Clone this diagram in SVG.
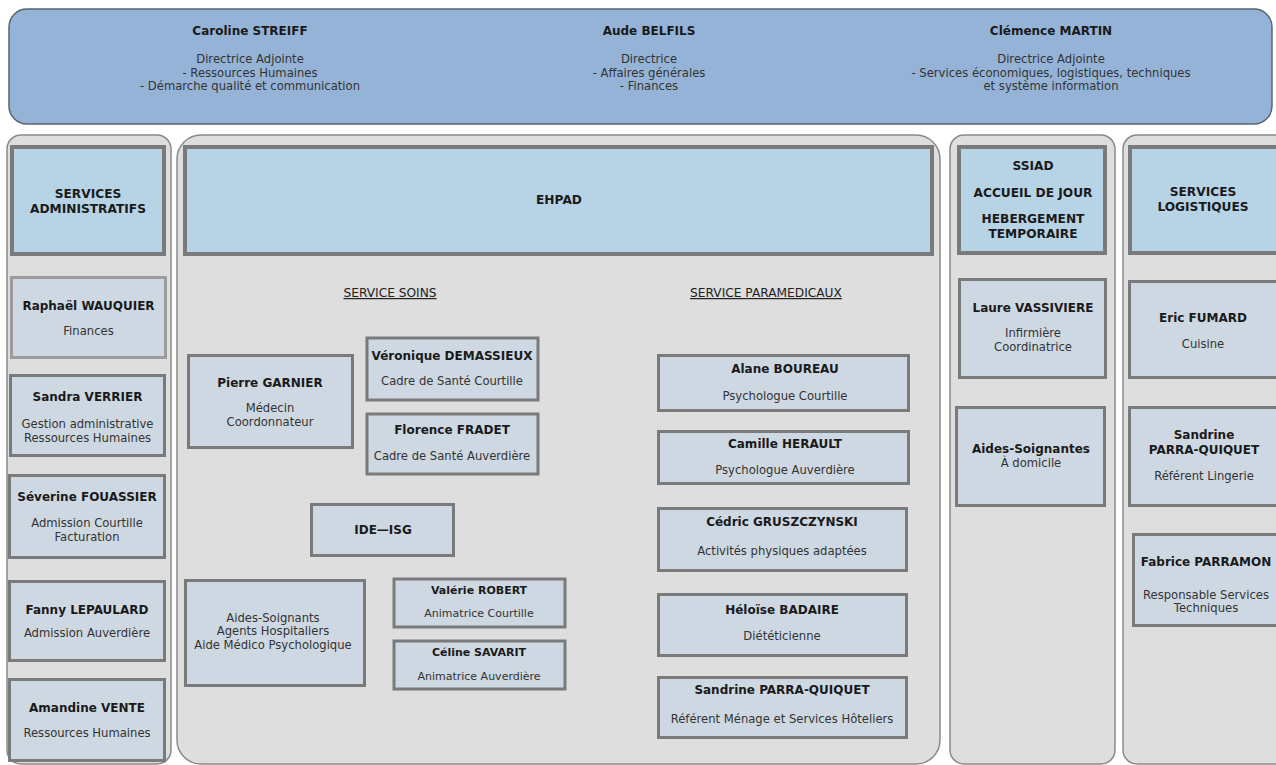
<svg xmlns="http://www.w3.org/2000/svg" width="1276" height="765" viewBox="0 0 1276 765">
<style>
text{font-family:"DejaVu Sans","Verdana",sans-serif;text-anchor:middle}
.n{font-weight:bold;font-size:12px;fill:#1a1a1a}
.s{font-size:11.6px;fill:#333}
.ss{font-size:11px;fill:#333}
.h{font-weight:bold;font-size:12.2px;fill:#1a1a1a}
.u{font-size:12.2px;fill:#222;text-decoration:underline}
.panel{fill:#dedede;stroke:#8a8a8a;stroke-width:1.5}
.hdr{fill:#b7d3e6;stroke:#7a7a7a;stroke-width:4}
.box{fill:#ced8e2;stroke:#7a7a7a;stroke-width:3}
.light{stroke:#9c9c9c}
</style>
<rect x="0" y="0" width="1276" height="765" fill="#ffffff"/>
<g id="direction">
<rect x="9" y="9" width="1263" height="115" rx="18" fill="#95b3d7" stroke="#5a6470" stroke-width="1.5"/>
<text class="n" x="250" y="35">Caroline STREIFF</text>
<text class="s" x="250" y="63">Directrice Adjointe</text>
<text class="s" x="250" y="76.5">- Ressources Humaines</text>
<text class="s" x="250" y="90">- Démarche qualité et communication</text>
<text class="n" x="649" y="35">Aude BELFILS</text>
<text class="s" x="649" y="63">Directrice</text>
<text class="s" x="649" y="76.5">- Affaires générales</text>
<text class="s" x="649" y="90">- Finances</text>
<text class="n" x="1051" y="35">Clémence MARTIN</text>
<text class="s" x="1051" y="63">Directrice Adjointe</text>
<text class="s" x="1051" y="76.5">- Services économiques, logistiques, techniques</text>
<text class="s" x="1051" y="90">et système information</text>
</g>
<g id="panels">
<rect class="panel" x="7" y="135" width="164" height="629" rx="14"/>
<rect class="panel" x="177" y="135" width="763" height="629" rx="24"/>
<rect class="panel" x="950" y="135" width="165" height="629" rx="14"/>
<rect class="panel" x="1123" y="135" width="170" height="629" rx="14"/>
</g>
<g id="services-administratifs">
<rect class="hdr" x="12" y="147" width="152" height="107"/>
<text class="h" x="88" y="198">SERVICES</text>
<text class="h" x="88" y="213">ADMINISTRATIFS</text>
</g>
<g id="raphael-wauquier">
<rect class="box light" x="11.5" y="277.5" width="154" height="80"/>
<text class="n" x="88.5" y="310">Raphaël WAUQUIER</text>
<text class="s" x="88.5" y="335">Finances</text>
</g>
<g id="sandra-verrier">
<rect class="box" x="10.5" y="375.5" width="154" height="80"/>
<text class="n" x="87.5" y="401">Sandra VERRIER</text>
<text class="s" x="87.5" y="428">Gestion administrative</text>
<text class="s" x="87.5" y="441.5">Ressources Humaines</text>
</g>
<g id="severine-fouassier">
<rect class="box" x="9.5" y="475.5" width="155" height="82"/>
<text class="n" x="87" y="501">Séverine FOUASSIER</text>
<text class="s" x="87" y="527">Admission Courtille</text>
<text class="s" x="87" y="540.5">Facturation</text>
</g>
<g id="fanny-lepaulard">
<rect class="box" x="9.5" y="581.5" width="155" height="79"/>
<text class="n" x="87" y="614">Fanny LEPAULARD</text>
<text class="s" x="87" y="637">Admission Auverdière</text>
</g>
<g id="amandine-vente">
<rect class="box" x="9.5" y="679.5" width="155" height="81"/>
<text class="n" x="87" y="712">Amandine VENTE</text>
<text class="s" x="87" y="737">Ressources Humaines</text>
</g>
<g id="ehpad">
<rect class="hdr" x="185" y="147" width="747" height="107"/>
<text class="h" x="559" y="204">EHPAD</text>
</g>
<g id="labels">
<text class="u" x="390" y="297">SERVICE SOINS</text>
<text class="u" x="766" y="297">SERVICE PARAMEDICAUX</text>
</g>
<g id="pierre-garnier">
<rect class="box" x="188.5" y="355.5" width="164" height="92"/>
<text class="n" x="270" y="387">Pierre GARNIER</text>
<text class="s" x="270" y="412">Médecin</text>
<text class="s" x="270" y="425.5">Coordonnateur</text>
</g>
<g id="veronique-demassieux">
<rect class="box" x="367" y="338" width="171" height="62"/>
<text class="n" x="452" y="360">Véronique DEMASSIEUX</text>
<text class="s" x="452" y="385">Cadre de Santé Courtille</text>
</g>
<g id="florence-fradet">
<rect class="box" x="367" y="414" width="171" height="60"/>
<text class="n" x="452" y="434">Florence FRADET</text>
<text class="s" x="452" y="460">Cadre de Santé Auverdière</text>
</g>
<g id="ide-isg">
<rect class="box" x="311.5" y="504.5" width="142" height="51"/>
<text class="n" x="383" y="534">IDE—ISG</text>
</g>
<g id="aides-soignants">
<rect class="box" x="185.5" y="580.5" width="179" height="105"/>
<text class="s" x="273" y="621.5">Aides-Soignants</text>
<text class="s" x="273" y="635">Agents Hospitaliers</text>
<text class="s" x="273" y="648.5">Aide Médico Psychologique</text>
</g>
<g id="valerie-robert">
<rect class="box" x="394" y="579" width="171" height="48"/>
<text class="n" x="479" y="594" style="font-size:11px">Valérie ROBERT</text>
<text class="ss" x="479" y="617">Animatrice Courtille</text>
</g>
<g id="celine-savarit">
<rect class="box" x="394" y="641" width="171" height="48"/>
<text class="n" x="479" y="656" style="font-size:11px">Céline SAVARIT</text>
<text class="ss" x="479" y="680">Animatrice Auverdière</text>
</g>
<g id="alane-boureau">
<rect class="box" x="658.5" y="355.5" width="250" height="55"/>
<text class="n" x="785" y="373">Alane BOUREAU</text>
<text class="s" x="785" y="400">Psychologue Courtille</text>
</g>
<g id="camille-herault">
<rect class="box" x="658.5" y="431.5" width="250" height="52"/>
<text class="n" x="785" y="448">Camille HERAULT</text>
<text class="s" x="785" y="474">Psychologue Auverdière</text>
</g>
<g id="cedric-gruszczynski">
<rect class="box" x="658.5" y="508.5" width="248" height="62"/>
<text class="n" x="782" y="526">Cédric GRUSZCZYNSKI</text>
<text class="s" x="782" y="555">Activités physiques adaptées</text>
</g>
<g id="heloise-badaire">
<rect class="box" x="658.5" y="594.5" width="248" height="61"/>
<text class="n" x="782" y="614">Héloïse BADAIRE</text>
<text class="s" x="782" y="640">Diététicienne</text>
</g>
<g id="sandrine-parra-quiquet-menage">
<rect class="box" x="658.5" y="677.5" width="248" height="60"/>
<text class="n" x="782" y="694">Sandrine PARRA-QUIQUET</text>
<text class="s" x="782" y="723">Référent Ménage et Services Hôteliers</text>
</g>
<g id="ssiad">
<rect class="hdr" x="959" y="147" width="146" height="106"/>
<text class="h" x="1033" y="170">SSIAD</text>
<text class="h" x="1033" y="197">ACCUEIL DE JOUR</text>
<text class="h" x="1033" y="223">HEBERGEMENT</text>
<text class="h" x="1033" y="237.5">TEMPORAIRE</text>
</g>
<g id="laure-vassiviere">
<rect class="box" x="959.5" y="279.5" width="146" height="98"/>
<text class="n" x="1033" y="312">Laure VASSIVIERE</text>
<text class="s" x="1033" y="337">Infirmière</text>
<text class="s" x="1033" y="350.5">Coordinatrice</text>
</g>
<g id="aides-soignantes">
<rect class="box" x="956.5" y="407.5" width="148" height="98"/>
<text class="n" x="1031" y="453">Aides-Soignantes</text>
<text class="s" x="1031" y="467">À domicile</text>
</g>
<g id="services-logistiques">
<rect class="hdr" x="1130" y="147" width="160" height="106"/>
<text class="h" x="1203" y="196">SERVICES</text>
<text class="h" x="1203" y="210.5">LOGISTIQUES</text>
</g>
<g id="eric-fumard">
<rect class="box" x="1129.5" y="281.5" width="160" height="96"/>
<text class="n" x="1203" y="322">Eric FUMARD</text>
<text class="s" x="1203" y="348">Cuisine</text>
</g>
<g id="sandrine-parra-quiquet-lingerie">
<rect class="box" x="1129.5" y="407.5" width="160" height="98"/>
<text class="n" x="1204" y="439">Sandrine</text>
<text class="n" x="1204" y="453.5">PARRA-QUIQUET</text>
<text class="s" x="1204" y="480">Référent Lingerie</text>
</g>
<g id="fabrice-parramon">
<rect class="box" x="1133.5" y="534.5" width="160" height="91"/>
<text class="n" x="1206" y="566">Fabrice PARRAMON</text>
<text class="s" x="1206" y="598.5">Responsable Services</text>
<text class="s" x="1206" y="612">Techniques</text>
</g>
</svg>
